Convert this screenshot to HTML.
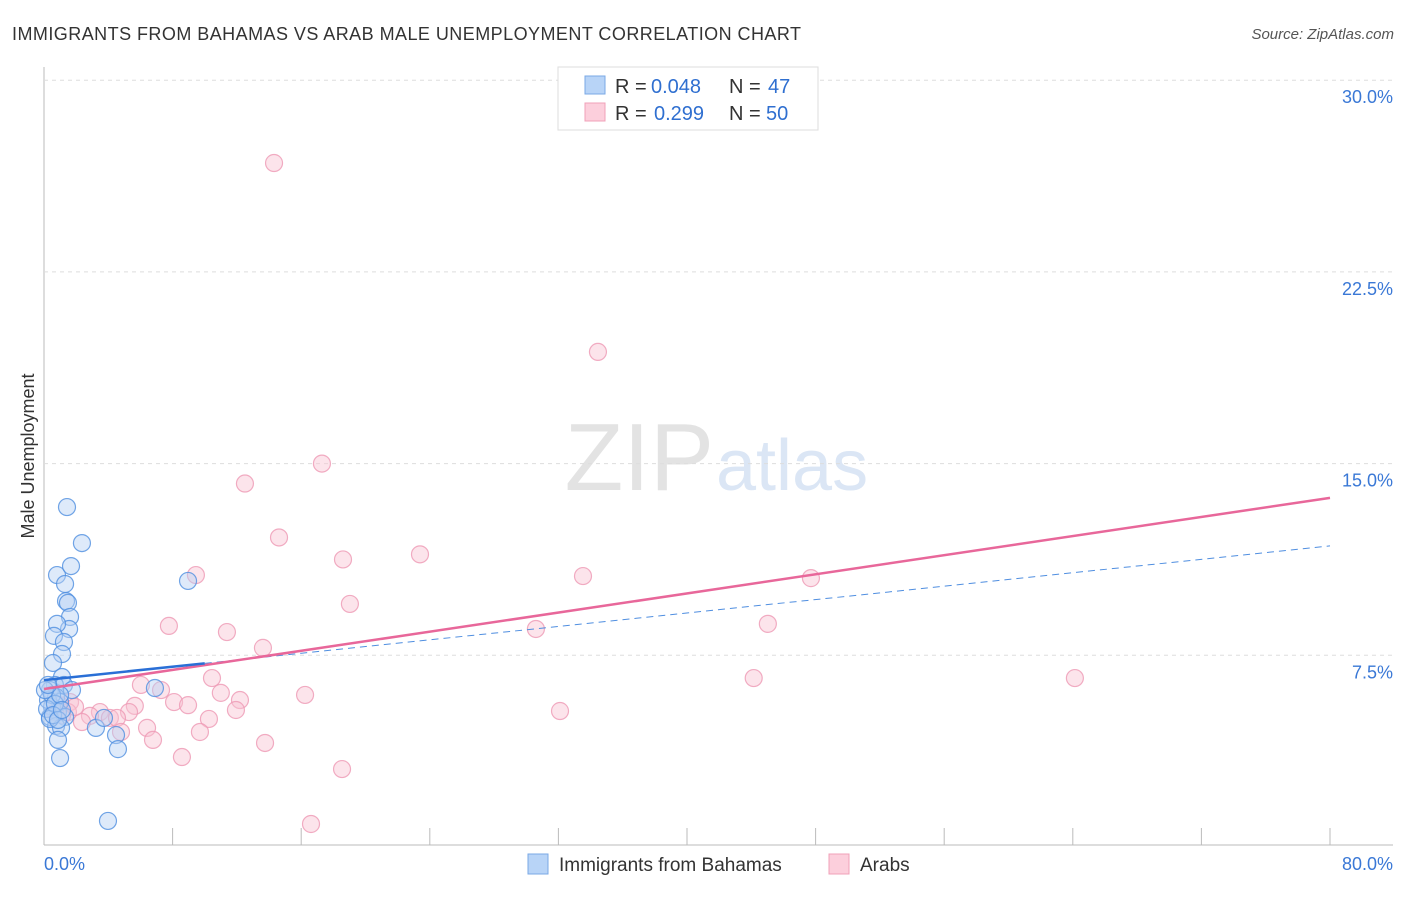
<!DOCTYPE html>
<html><head><meta charset="utf-8"><style>
body{margin:0;background:#fff;font-family:"Liberation Sans",sans-serif}
svg text{font-family:"Liberation Sans",sans-serif}
</style></head><body>
<svg id="c" width="1406" height="892">
<text x="12" y="40" font-size="18" fill="#333" textLength="789">IMMIGRANTS FROM BAHAMAS VS ARAB MALE UNEMPLOYMENT CORRELATION CHART</text>
<text x="1394" y="39" font-size="15" fill="#555" font-style="italic" text-anchor="end">Source: ZipAtlas.com</text>
<text x="34" y="456" font-size="18" fill="#333" transform="rotate(-90 34 456)" text-anchor="middle">Male Unemployment</text>
<text x="714" y="490" font-size="96" fill="#e3e3e3" text-anchor="end" font-family="Liberation Serif">ZIP</text>
<text x="716" y="490" font-size="72" fill="#dbe6f5">atlas</text>
<g id="grid"></g><g id="pts"></g><g id="lines"></g>
<g>
<rect x="558" y="67" width="260" height="63" fill="#fff" stroke="#ddd"/>
<rect x="585" y="76" width="20" height="18" fill="#b8d4f7" stroke="#7aa8e6"/>
<rect x="585" y="103" width="20" height="18" fill="#fccfdc" stroke="#f0a0b8"/>
<text x="615" y="93" font-size="20" fill="#333">R =</text>
<text x="651" y="93" font-size="20" fill="#2f6fd0">0.048</text>
<text x="729" y="93" font-size="20" fill="#333">N =</text>
<text x="768" y="93" font-size="20" fill="#2f6fd0">47</text>
<text x="615" y="120" font-size="20" fill="#333">R =</text>
<text x="654" y="120" font-size="20" fill="#2f6fd0">0.299</text>
<text x="729" y="120" font-size="20" fill="#333">N =</text>
<text x="766" y="120" font-size="20" fill="#2f6fd0">50</text>
</g>
<g>
<rect x="528" y="854" width="20" height="20" fill="#b8d4f7" stroke="#7aa8e6"/>
<text x="559" y="871" font-size="19" fill="#333">Immigrants from Bahamas</text>
<rect x="829" y="854" width="20" height="20" fill="#fccfdc" stroke="#f0a0b8"/>
<text x="860" y="871" font-size="19" fill="#333">Arabs</text>
</g>
</svg>
<script>
const yTicks=[7.5,15,22.5,30];
const yTickLabels=["7.5%","15.0%","22.5%","30.0%"];
const xTickVals=[0,8,16,24,32,40,48,56,64,72,80];
const bahamasX=[1.43,2.36,0.81,1.68,1.31,1.37,1.49,1.62,1.56,0.81,0.62,1.24,1.12,0.56,1.12,0.68,1.24,1.74,0.37,0.75,1.0,0.5,0.87,0.37,1.31,0.75,1.06,0.87,1.0,3.23,4.48,3.73,4.6,3.98,8.96,6.9,0.25,0.5,0.19,0.37,0.68,1.0,0.06,0.56,0.87,1.12,0.25];
const bahamasY=[13.3,11.89,10.64,10.99,10.29,9.62,9.55,9.0,8.53,8.73,8.26,8.02,7.55,7.2,6.65,6.34,6.34,6.14,6.14,5.87,5.67,5.48,5.28,5.09,5.09,4.73,4.66,4.19,3.48,4.66,4.38,5.05,3.83,1.02,10.41,6.22,5.75,5.95,5.4,5.01,5.6,5.95,6.14,5.16,4.97,5.36,6.34];
const arabsX=[14.31,34.46,17.29,12.5,14.62,23.39,18.6,33.53,47.71,9.45,19.03,7.77,11.38,30.6,45.03,13.62,10.45,44.15,64.13,6.03,7.28,11.0,16.24,8.09,8.96,12.19,1.62,0.99,5.65,11.94,32.1,5.29,3.48,4.1,2.86,4.54,2.36,10.26,6.41,4.79,6.78,9.7,13.75,8.58,18.54,16.61,1.49,1.12,1.93,0.68];
const arabsY=[26.76,19.37,15.0,14.22,12.11,11.45,11.25,10.6,10.52,10.64,9.51,8.65,8.41,8.53,8.73,7.79,6.61,6.61,6.61,6.34,6.14,6.03,5.95,5.67,5.55,5.75,5.67,5.55,5.52,5.36,5.32,5.28,5.28,5.05,5.13,5.05,4.89,5.01,4.66,4.5,4.19,4.5,4.07,3.52,3.05,0.9,5.28,5.16,5.48,5.28];
const trendBahamas=[6.53,11.78];
const trendArabs=[6.18,13.66];
const ns="http://www.w3.org/2000/svg";
const X=v=>44+v*16.075, Y=v=>847-v*25.56;
function mk(t,a,p){const e=document.createElementNS(ns,t);for(const k in a)e.setAttribute(k,a[k]);p.appendChild(e);return e;}
const grid=document.getElementById('grid'),pts=document.getElementById('pts'),lines=document.getElementById('lines');
let ax=mk('line',{x1:44,y1:67,x2:44,y2:845,stroke:'#bbb'},grid);

let bx=mk('line',{x1:44,y1:845,x2:1393,y2:845,stroke:'#bbb'},grid);

yTicks.forEach((v,i)=>{let g=mk('line',{x1:44,y1:Y(v),x2:1393,y2:Y(v),stroke:'#ddd','stroke-dasharray':'4,4'},grid);

let t=mk('text',{x:1393,y:Y(v)+23,'font-size':18,fill:'#3a78d6','text-anchor':'end'},grid);t.textContent=yTickLabels[i];
});
xTickVals.forEach(v=>{let l=mk('line',{x1:X(v),y1:828,x2:X(v),y2:845,stroke:'#bbb'},grid);
});
let t0=mk('text',{x:44,y:870,'font-size':18,fill:'#3a78d6'},grid);t0.textContent='0.0%';

let t1=mk('text',{x:1393,y:870,'font-size':18,fill:'#3a78d6','text-anchor':'end'},grid);t1.textContent='80.0%';

function dots(xs,ys,f,s,name){xs.forEach((x,i)=>{let c=mk('circle',{cx:X(x),cy:Y(ys[i]),r:8.5,fill:f,'fill-opacity':0.45,stroke:s,'stroke-opacity':0.8,'stroke-width':1.2},pts);
});}
dots(arabsX,arabsY,'#f9c3d3','#ee98b4','arab-point');
dots(bahamasX,bahamasY,'#b5d0f5','#4f8ee0','bahamas-point');
let d=mk('line',{x1:X(10),y1:Y(trendBahamas[0]+(trendBahamas[1]-trendBahamas[0])*10/80),x2:X(80),y2:Y(trendBahamas[1]),stroke:'#4f8ee0','stroke-width':1,'stroke-dasharray':'7,5'},lines);

let p=mk('line',{x1:X(0),y1:Y(trendArabs[0]),x2:X(80),y2:Y(trendArabs[1]),stroke:'#e8679a','stroke-width':2.5},lines);

let b=mk('line',{x1:X(0),y1:Y(trendBahamas[0]),x2:X(10),y2:Y(trendBahamas[0]+(trendBahamas[1]-trendBahamas[0])*10/80),stroke:'#2a6fd6','stroke-width':2.5},lines);

</script>
</body></html>
